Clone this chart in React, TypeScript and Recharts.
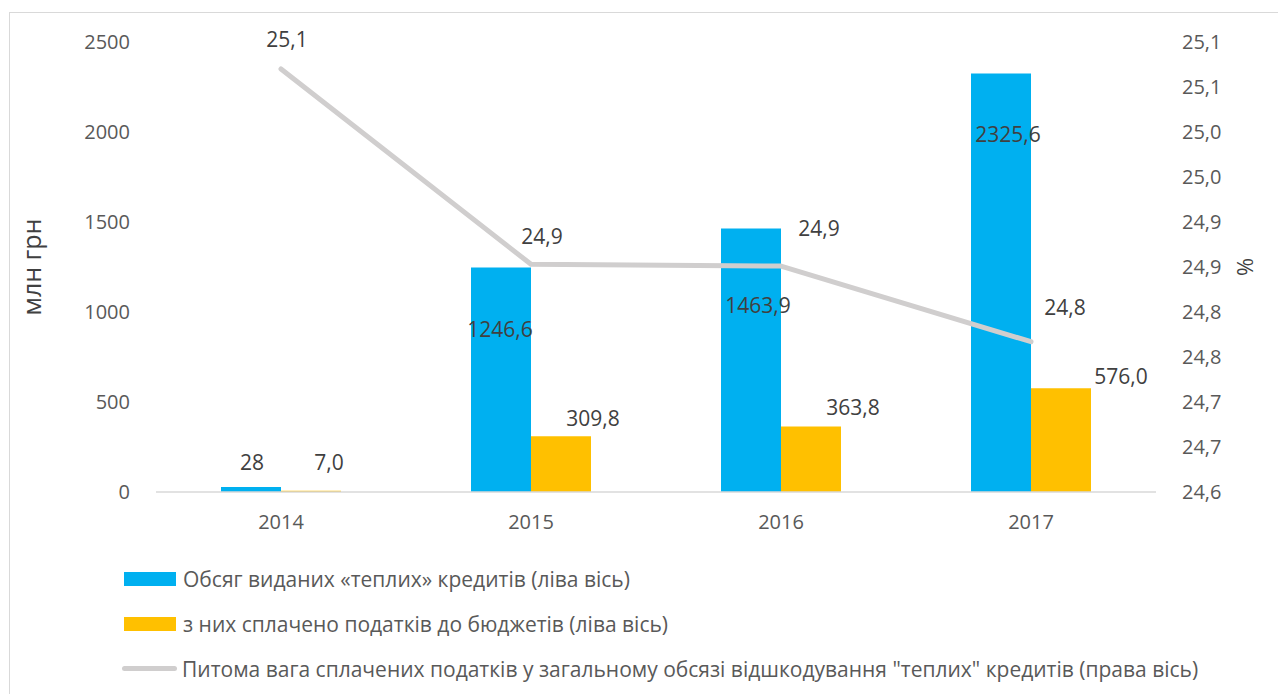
import React from "react";
import {
  ComposedChart,
  Bar,
  Line,
  XAxis,
  YAxis,
  Legend,
  LabelList,
  Label,
} from "recharts";

const YEARS = ["2014", "2015", "2016", "2017"];
const CREDITS = [28, 1246.6, 1463.9, 2325.6];
const TAXES = [7.0, 309.8, 363.8, 576.0];
const SHARE = [25.07, 24.853, 24.851, 24.767];

const LEFT_TICKS = [0, 500, 1000, 1500, 2000, 2500];
const RIGHT_TICKS = [24.6, 24.65, 24.7, 24.75, 24.8, 24.85, 24.9, 24.95, 25.0, 25.05, 25.1];
const RIGHT_TICK_LABELS = ["24,6", "24,7", "24,7", "24,8", "24,8", "24,9", "24,9", "25,0", "25,0", "25,1", "25,1"];

const SERIES_NAMES = [
  "Обсяг виданих «теплих» кредитів (ліва вісь)",
  "з них сплачено податків до бюджетів (ліва вісь)",
  "Питома вага сплачених податків у загальному обсязі відшкодування \"теплих\" кредитів (права вісь)",
];

const BLUE = "#00b0f0";
const YELLOW = "#ffc000";
const GRAY = "#d0cece";
const FONT = "'Open Sans', sans-serif";
const TICK_COLOR = "#595959";
const LABEL_COLOR = "#404040";

// label nudges (dx, dy) from the top-centre of each mark, as placed in the original
const BLUE_LABEL_NUDGE = [[1, -25], [-1, 61], [7, 77], [7, 61]];
const YELLOW_LABEL_NUDGE = [[18, -29], [32, -18], [42, -20], [60, -12]];
const LINE_LABEL_NUDGE = [[6, -30], [11, -28], [38, -38], [34, -35]];

const data = YEARS.map((year, i) => ({
  year,
  credits: CREDITS[i],
  taxes: TAXES[i],
  share: SHARE[i],
}));

const comma = (s: string) => s.replace(".", ",");

function barLabel(nudge: number[][], fmt: (v: number) => string) {
  return (props: any) => {
    const { x, y, width, value, index } = props;
    const [dx, dy] = nudge[index] || [0, 0];
    return (
      <text
        x={Number(x) + Number(width) / 2 + dx}
        y={Number(y) + dy}
        textAnchor="middle"
        dominantBaseline="central"
        fill={LABEL_COLOR}
        fontSize={21}
        fontFamily={FONT}
      >
        {fmt(Number(value))}
      </text>
    );
  };
}

function lineLabel(props: any) {
  const { x, y, value, index } = props;
  const [dx, dy] = LINE_LABEL_NUDGE[index] || [0, 0];
  return (
    <text
      x={Number(x) + dx}
      y={Number(y) + dy}
      textAnchor="middle"
      dominantBaseline="central"
      fill={LABEL_COLOR}
      fontSize={21}
      fontFamily={FONT}
    >
      {comma(Number(value).toFixed(1))}
    </text>
  );
}

function LegendBox() {
  const swatches = [
    <div style={{ width: 52, height: 14, background: BLUE }} />,
    <div style={{ width: 52, height: 14, background: YELLOW }} />,
    <div style={{ width: 55, height: 5, background: GRAY, borderRadius: 3, marginLeft: -2 }} />,
  ];
  return (
    <div style={{ fontFamily: FONT, fontSize: 21, color: TICK_COLOR }}>
      {SERIES_NAMES.map((name, i) => (
        <div key={i} style={{ display: "flex", alignItems: "center", height: 45 }}>
          {swatches[i]}
          <span style={{ marginLeft: i === 2 ? 5 : 7, whiteSpace: "nowrap" }}>{name}</span>
        </div>
      ))}
    </div>
  );
}

export default function App() {
  return (
    <div style={{ position: "relative", width: 1278, height: 686 }}>
      <div
        style={{
          position: "absolute",
          left: 1,
          top: 4,
          width: 1277,
          height: 682,
          borderTop: "1px solid #d9d9d9",
          borderLeft: "1px solid #d9d9d9",
          boxSizing: "border-box",
        }}
      />
      <ComposedChart
        width={1278}
        height={686}
        data={data}
        margin={{ top: 34, right: 30, left: 10, bottom: 152 }}
        barGap={0}
        style={{ position: "absolute", left: 0, top: 0 }}
      >
        <XAxis
          dataKey="year"
          height={50}
          tickSize={0}
          tickMargin={23}
          axisLine={{ stroke: "#d9d9d9", strokeWidth: 1.5 }}
          tick={{ fill: TICK_COLOR, fontSize: 20, fontFamily: FONT }}
        />
        <YAxis
          yAxisId="left"
          orientation="left"
          width={138}
          domain={[0, 2500]}
          ticks={LEFT_TICKS}
          tickSize={0}
          tickMargin={26}
          axisLine={false}
          tick={{ fill: TICK_COLOR, fontSize: 20, fontFamily: FONT }}
        >
          <Label
            value="млн грн"
            angle={-90}
            position="insideLeft"
            offset={14}
            style={{ fill: "#404040", fontSize: 25, fontFamily: FONT, textAnchor: "middle" }}
          />
        </YAxis>
        <YAxis
          yAxisId="right"
          orientation="right"
          width={100}
          domain={[24.6, 25.1]}
          ticks={RIGHT_TICKS}
          interval={0}
          tickSize={0}
          tickMargin={26}
          axisLine={false}
          tickFormatter={(v: number) => RIGHT_TICK_LABELS[RIGHT_TICKS.indexOf(v)] ?? comma(String(v))}
          tick={{ fill: TICK_COLOR, fontSize: 20, fontFamily: FONT }}
        >
          <Label
            value="%"
            angle={-90}
            position="insideRight"
            offset={11}
            style={{ fill: "#404040", fontSize: 22, fontFamily: FONT, textAnchor: "middle" }}
          />
        </YAxis>
        <Legend
          layout="vertical"
          align="center"
          verticalAlign="middle"
          wrapperStyle={{ left: 116, top: 548, width: 1140 }}
          content={() => <LegendBox />}
        />
        <Bar yAxisId="left" dataKey="credits" name={SERIES_NAMES[0]} fill={BLUE} barSize={60} isAnimationActive={false}>
          <LabelList
            dataKey="credits"
            content={barLabel(BLUE_LABEL_NUDGE, (v) => (Number.isInteger(v) ? String(v) : comma(v.toFixed(1))))}
          />
        </Bar>
        <Bar yAxisId="left" dataKey="taxes" name={SERIES_NAMES[1]} fill={YELLOW} barSize={60} isAnimationActive={false}>
          <LabelList dataKey="taxes" content={barLabel(YELLOW_LABEL_NUDGE, (v) => comma(v.toFixed(1)))} />
        </Bar>
        <Line
          yAxisId="right"
          dataKey="share"
          name={SERIES_NAMES[2]}
          stroke={GRAY}
          strokeWidth={5}
          strokeLinecap="round"
          strokeLinejoin="round"
          dot={false}
          activeDot={false}
          isAnimationActive={false}
        >
          <LabelList dataKey="share" content={lineLabel} />
        </Line>
      </ComposedChart>
    </div>
  );
}
